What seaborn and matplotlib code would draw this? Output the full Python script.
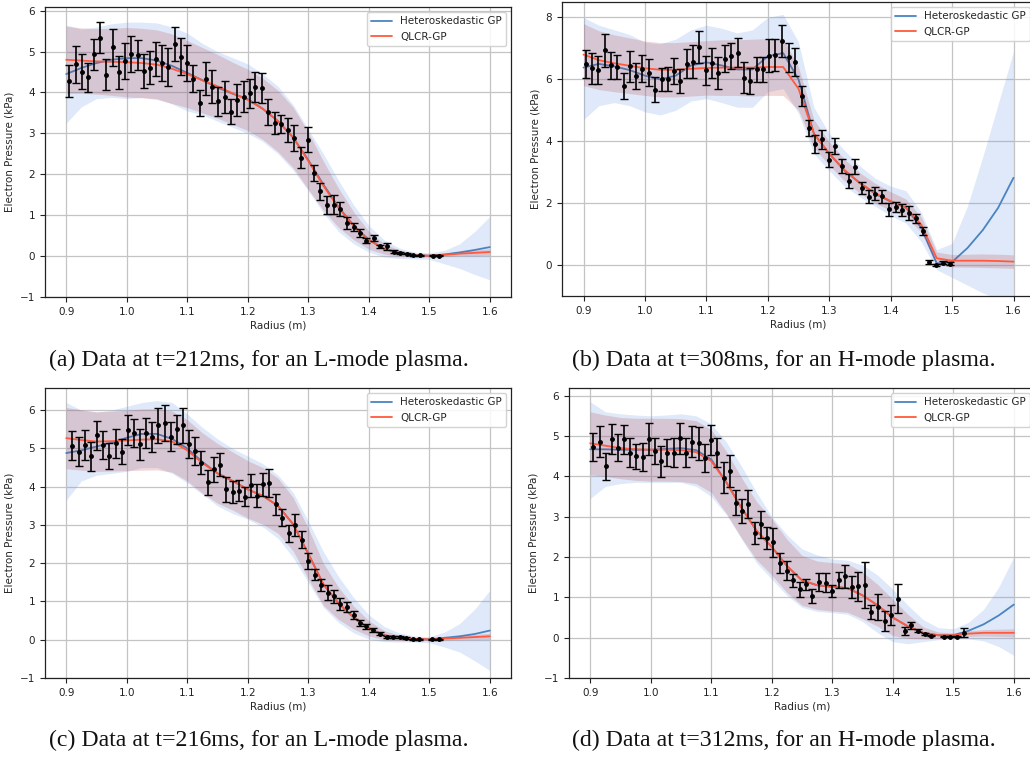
import numpy as np
import seaborn as sns
import matplotlib.pyplot as plt

sns.set_style("ticks")
plt.rcParams['font.family'] = ['DejaVu Sans']

# common radius grid for the GP fits
rg = [0.9, 0.925, 0.95, 0.975, 1.0, 1.025, 1.05, 1.075, 1.1, 1.125, 1.15, 1.175, 1.2, 1.225,
      1.25, 1.275, 1.3, 1.325, 1.35, 1.375, 1.4, 1.425, 1.45, 1.475, 1.5, 1.525, 1.55, 1.575, 1.6]

# ---- (a) t=212ms, L-mode
ra = [0.904, 0.9155, 0.9255, 0.9355, 0.946, 0.9565, 0.9665, 0.977, 0.987, 0.9975,
      1.0077, 1.018, 1.0288, 1.039, 1.0485, 1.0585, 1.069, 1.0795, 1.09, 1.1,
      1.11, 1.1205, 1.131, 1.141, 1.1515, 1.162, 1.1725, 1.1825, 1.193, 1.2035,
      1.2127, 1.2232, 1.2343, 1.2448, 1.2553, 1.2663, 1.2768, 1.2873, 1.2989, 1.3094,
      1.32, 1.3315, 1.342, 1.3525, 1.3635, 1.3751, 1.3856, 1.396, 1.4083, 1.4188,
      1.4293, 1.4409, 1.452, 1.463, 1.4735, 1.4851, 1.506, 1.5166]
pa = [4.27, 4.69, 4.51, 4.37, 4.93, 5.34, 4.43, 5.10, 4.49, 4.77,
      4.93, 4.92, 4.53, 4.61, 4.82, 4.72, 4.63, 5.18, 4.87, 4.73,
      4.34, 3.74, 4.34, 4.14, 3.78, 3.90, 3.53, 3.81, 3.90, 3.98,
      4.13, 4.11, 3.53, 3.26, 3.23, 3.08, 2.88, 2.41, 2.85, 2.03,
      1.58, 1.25, 1.26, 1.15, 0.81, 0.71, 0.56, 0.38, 0.45, 0.24,
      0.24, 0.11, 0.08, 0.06, 0.02, 0.02, 0.01, 0.01]
ea = [0.39, 0.45, 0.42, 0.35, 0.38, 0.38, 0.38, 0.46, 0.40, 0.44,
      0.44, 0.37, 0.41, 0.40, 0.42, 0.43, 0.46, 0.41, 0.45, 0.44,
      0.33, 0.31, 0.41, 0.40, 0.35, 0.39, 0.30, 0.39, 0.38, 0.36,
      0.36, 0.36, 0.32, 0.27, 0.22, 0.30, 0.32, 0.25, 0.31, 0.19,
      0.21, 0.23, 0.23, 0.17, 0.14, 0.10, 0.10, 0.06, 0.07, 0.04,
      0.08, 0.03, 0.02, 0.02, 0.01, 0.01, 0.01, 0.01]
het_a = [4.45, 4.60, 4.72, 4.80, 4.84, 4.84, 4.78, 4.65, 4.48, 4.30, 4.12, 3.97, 3.84, 3.60,
         3.30, 2.90, 2.35, 1.75, 1.20, 0.75, 0.40, 0.18, 0.07, 0.02, 0.01, 0.04, 0.09, 0.15, 0.22]
het_lo_a = [3.25, 3.65, 3.85, 3.88, 3.85, 3.88, 3.85, 3.72, 3.55, 3.45, 3.30, 3.15, 3.00, 2.80,
            2.50, 2.10, 1.60, 1.05, 0.60, 0.30, 0.10, -0.02, -0.06, -0.07, -0.08, -0.19, -0.30, -0.45, -0.58]
het_hi_a = [5.65, 5.55, 5.60, 5.68, 5.72, 5.72, 5.70, 5.60, 5.45, 5.20, 5.00, 4.85, 4.70, 4.45,
            4.15, 3.70, 3.10, 2.50, 1.85, 1.25, 0.75, 0.40, 0.20, 0.10, 0.08, 0.14, 0.30, 0.60, 0.97]
qlcr_a = [4.80, 4.78, 4.76, 4.75, 4.74, 4.72, 4.68, 4.58, 4.45, 4.30, 4.15, 3.98, 3.82, 3.60,
          3.30, 2.90, 2.33, 1.72, 1.18, 0.74, 0.39, 0.18, 0.07, 0.02, 0.01, 0.03, 0.06, 0.08, 0.10]
qlcr_sd_a = [0.82, 0.80, 0.80, 0.82, 0.85, 0.85, 0.85, 0.85, 0.82, 0.80, 0.78, 0.76, 0.75, 0.75,
             0.75, 0.74, 0.70, 0.60, 0.48, 0.34, 0.22, 0.13, 0.08, 0.04, 0.03, 0.04, 0.05, 0.07, 0.08]

# ---- (b) t=308ms, H-mode
rb = [0.9038, 0.914, 0.924, 0.9344, 0.9447, 0.955, 0.9655, 0.9753, 0.9857, 0.996,
      1.0064, 1.0167, 1.027, 1.037, 1.0473, 1.0577, 1.068, 1.0784, 1.0888, 1.0991,
      1.109, 1.1193, 1.1297, 1.14, 1.151, 1.1613, 1.1717, 1.182, 1.1924, 1.2025,
      1.2122, 1.2235, 1.2343, 1.2447, 1.2555, 1.2664, 1.2772, 1.288, 1.2989, 1.3098,
      1.3206, 1.3315, 1.3423, 1.3532, 1.364, 1.3749, 1.3857, 1.3966, 1.408, 1.4188,
      1.4297, 1.4405, 1.4519, 1.4628, 1.4742, 1.485, 1.4959]
pb = [6.51, 6.36, 6.30, 6.94, 6.45, 6.40, 5.79, 6.43, 6.10, 6.35,
      6.22, 5.67, 6.00, 6.00, 6.28, 5.94, 6.51, 6.57, 7.05, 6.30,
      6.53, 6.21, 6.67, 6.75, 6.86, 6.05, 5.95, 6.32, 6.32, 6.77,
      6.78, 7.24, 6.71, 6.57, 5.46, 4.43, 3.91, 4.06, 3.41, 3.85,
      3.20, 2.71, 3.18, 2.48, 2.21, 2.31, 2.23, 1.80, 1.88, 1.78,
      1.69, 1.51, 1.10, 0.11, 0.00, 0.08, 0.05]
eb = [0.45, 0.50, 0.44, 0.54, 0.43, 0.40, 0.41, 0.50, 0.42, 0.44,
      0.45, 0.40, 0.36, 0.39, 0.42, 0.39, 0.46, 0.54, 0.52, 0.47,
      0.47, 0.51, 0.44, 0.43, 0.47, 0.50, 0.41, 0.41, 0.40, 0.54,
      0.51, 0.51, 0.47, 0.45, 0.33, 0.27, 0.29, 0.30, 0.24, 0.27,
      0.24, 0.23, 0.24, 0.19, 0.20, 0.20, 0.21, 0.20, 0.16, 0.19,
      0.22, 0.15, 0.13, 0.06, 0.03, 0.04, 0.04]
het_b = [6.38, 6.50, 6.42, 6.30, 6.12, 6.00, 6.12, 6.45, 6.55, 6.45, 6.32, 6.32, 6.75, 6.85,
         6.00, 4.25, 3.60, 3.05, 2.65, 2.30, 2.05, 1.85, 1.20, 0.05, 0.10, 0.55, 1.13, 1.85, 2.82]
het_lo_b = [4.70, 5.15, 5.25, 5.15, 4.95, 4.85, 5.00, 5.30, 5.38, 5.25, 5.10, 5.10, 5.60, 5.70,
            4.90, 3.60, 3.05, 2.55, 2.20, 1.90, 1.60, 1.35, 0.75, -0.15, -0.40, -0.65, -0.90, -1.10, -1.30]
het_hi_b = [8.00, 7.75, 7.60, 7.45, 7.20, 7.15, 7.30, 7.60, 7.75, 7.65, 7.50, 7.60, 8.00, 8.10,
            7.20, 5.10, 4.25, 3.70, 3.20, 2.80, 2.55, 2.40, 1.70, 0.50, 0.70, 1.90, 3.50, 5.20, 6.90]
qlcr_b = [6.80, 6.62, 6.52, 6.44, 6.36, 6.31, 6.31, 6.34, 6.37, 6.38, 6.38, 6.38, 6.40, 6.40,
          5.70, 4.25, 3.60, 3.07, 2.65, 2.32, 2.07, 1.85, 1.30, 0.22, 0.14, 0.14, 0.14, 0.13, 0.11]
qlcr_sd_b = [1.00, 0.95, 0.92, 0.90, 0.88, 0.88, 0.88, 0.88, 0.88, 0.90, 0.90, 0.92, 0.92, 0.92,
             0.70, 0.45, 0.38, 0.35, 0.33, 0.32, 0.30, 0.28, 0.25, 0.20, 0.20, 0.21, 0.22, 0.22, 0.22]

# ---- (c) t=216ms, L-mode
rc = [0.91, 0.9205, 0.9305, 0.941, 0.951, 0.9615, 0.9715, 0.9815, 0.992, 1.002,
      1.012, 1.022, 1.032, 1.0425, 1.0525, 1.0625, 1.073, 1.083, 1.093, 1.1035,
      1.1135, 1.1235, 1.134, 1.144, 1.1545, 1.1645, 1.1755, 1.1855, 1.1955, 1.2055,
      1.2149, 1.226, 1.2359, 1.2464, 1.2569, 1.268, 1.2785, 1.289, 1.3, 1.3105,
      1.321, 1.332, 1.3425, 1.353, 1.364, 1.375, 1.3856, 1.396, 1.4077, 1.4182,
      1.4293, 1.4403, 1.4514, 1.4619, 1.4724, 1.4834, 1.505, 1.516]
pc = [5.07, 4.92, 5.09, 4.80, 5.34, 5.09, 4.80, 5.14, 4.92, 5.48,
      5.41, 5.11, 5.41, 5.30, 5.60, 5.66, 5.31, 5.50, 5.60, 5.11,
      4.94, 4.63, 4.11, 4.45, 4.58, 3.93, 3.87, 3.90, 3.74, 4.04,
      3.77, 4.06, 4.09, 3.54, 3.19, 2.78, 3.00, 2.62, 2.06, 1.70,
      1.44, 1.23, 1.14, 0.94, 0.86, 0.64, 0.44, 0.35, 0.26, 0.16,
      0.07, 0.07, 0.07, 0.04, 0.01, 0.01, 0.01, 0.01]
ec = [0.38, 0.38, 0.39, 0.38, 0.38, 0.36, 0.35, 0.38, 0.33, 0.39,
      0.36, 0.41, 0.39, 0.39, 0.45, 0.47, 0.37, 0.38, 0.45, 0.36,
      0.37, 0.31, 0.33, 0.32, 0.30, 0.32, 0.29, 0.28, 0.24, 0.30,
      0.31, 0.31, 0.36, 0.27, 0.22, 0.23, 0.29, 0.21, 0.22, 0.15,
      0.16, 0.20, 0.17, 0.16, 0.13, 0.10, 0.08, 0.07, 0.05, 0.04,
      0.03, 0.03, 0.03, 0.02, 0.01, 0.01, 0.01, 0.01]
het_c = [4.88, 4.95, 5.05, 5.15, 5.28, 5.38, 5.38, 5.25, 5.00, 4.65, 4.35, 4.15, 3.93, 3.76,
         3.50, 3.02, 2.25, 1.45, 0.95, 0.58, 0.30, 0.12, 0.05, 0.02, 0.01, 0.05, 0.09, 0.15, 0.24]
het_lo_c = [3.65, 4.15, 4.30, 4.35, 4.40, 4.50, 4.50, 4.35, 4.10, 3.80, 3.50, 3.30, 3.15, 2.95,
            2.65, 2.15, 1.50, 0.85, 0.45, 0.18, 0.02, -0.05, -0.06, -0.06, -0.08, -0.19, -0.32, -0.55, -0.80]
het_hi_c = [6.20, 6.00, 5.95, 6.00, 6.10, 6.20, 6.25, 6.20, 5.90, 5.55, 5.25, 5.00, 4.80, 4.60,
            4.30, 3.85, 3.10, 2.30, 1.65, 1.10, 0.65, 0.35, 0.18, 0.10, 0.08, 0.20, 0.42, 0.80, 1.29]
qlcr_c = [5.27, 5.22, 5.18, 5.19, 5.21, 5.23, 5.24, 5.18, 4.95, 4.62, 4.35, 4.15, 3.93, 3.76,
          3.50, 3.02, 2.25, 1.45, 0.95, 0.58, 0.30, 0.12, 0.05, 0.02, 0.01, 0.03, 0.05, 0.07, 0.09]
qlcr_sd_c = [0.80, 0.79, 0.78, 0.78, 0.79, 0.80, 0.80, 0.80, 0.80, 0.79, 0.78, 0.76, 0.75, 0.74,
             0.72, 0.70, 0.66, 0.55, 0.42, 0.30, 0.20, 0.12, 0.07, 0.04, 0.03, 0.04, 0.05, 0.07, 0.08]

# ---- (d) t=312ms, H-mode
rd = [0.905, 0.9155, 0.9254, 0.936, 0.9464, 0.9564, 0.9663, 0.9762, 0.9867, 0.9972,
      1.0072, 1.0177, 1.0276, 1.038, 1.0486, 1.0586, 1.0685, 1.079, 1.0895, 1.0994,
      1.11, 1.1204, 1.1304, 1.1409, 1.1508, 1.1613, 1.1718, 1.1818, 1.1923, 1.2028,
      1.2138, 1.2248, 1.2358, 1.2468, 1.2567, 1.2671, 1.2781, 1.2892, 1.2996, 1.3106,
      1.3211, 1.3321, 1.3431, 1.3546, 1.3646, 1.3756, 1.3866, 1.3976, 1.4086, 1.4196,
      1.4306, 1.4416, 1.4526, 1.4636, 1.484, 1.495, 1.506, 1.5176]
pd_ = [4.73, 4.86, 4.25, 4.93, 4.71, 4.92, 4.59, 4.50, 4.48, 4.93,
       4.62, 4.37, 4.59, 4.59, 4.94, 4.59, 4.86, 4.82, 4.45, 4.90,
       4.59, 3.97, 4.13, 3.34, 3.14, 3.32, 2.60, 2.81, 2.48, 2.36,
       1.85, 1.66, 1.42, 1.20, 1.32, 1.03, 1.38, 1.36, 1.15, 1.42,
       1.52, 1.26, 1.27, 1.30, 0.64, 0.76, 0.41, 0.57, 0.97, 0.16,
       0.31, 0.17, 0.09, 0.05, 0.02, 0.02, 0.02, 0.12]
ed = [0.35, 0.38, 0.34, 0.37, 0.34, 0.36, 0.35, 0.31, 0.34, 0.40,
      0.32, 0.38, 0.34, 0.36, 0.38, 0.37, 0.38, 0.41, 0.35, 0.37,
      0.35, 0.38, 0.39, 0.31, 0.29, 0.35, 0.27, 0.34, 0.27, 0.36,
      0.25, 0.24, 0.17, 0.18, 0.14, 0.17, 0.22, 0.24, 0.15, 0.20,
      0.29, 0.28, 0.37, 0.57, 0.17, 0.33, 0.25, 0.25, 0.36, 0.10,
      0.09, 0.04, 0.03, 0.02, 0.01, 0.01, 0.01, 0.11]
het_d = [4.67, 4.67, 4.66, 4.66, 4.66, 4.68, 4.70, 4.65, 4.42, 3.85, 3.22, 2.65, 2.25, 1.78,
         1.42, 1.30, 1.26, 1.23, 1.05, 0.80, 0.50, 0.28, 0.12, 0.06, 0.06, 0.17, 0.33, 0.55, 0.82]
het_lo_d = [3.45, 3.75, 3.82, 3.85, 3.85, 3.85, 3.85, 3.75, 3.50, 3.05, 2.45, 1.85, 1.45, 1.05,
            0.75, 0.65, 0.62, 0.58, 0.40, 0.12, -0.10, -0.15, -0.10, -0.05, -0.03, -0.03, -0.08, -0.22, -0.44]
het_hi_d = [5.85, 5.60, 5.55, 5.52, 5.50, 5.52, 5.55, 5.50, 5.30, 4.85, 4.25, 3.60, 3.00, 2.55,
            2.20, 2.05, 1.95, 1.92, 1.80, 1.55, 1.20, 0.80, 0.45, 0.25, 0.22, 0.38, 0.70, 1.25, 2.00]
qlcr_d = [4.82, 4.76, 4.70, 4.67, 4.66, 4.66, 4.65, 4.60, 4.38, 3.85, 3.22, 2.65, 2.25, 1.78,
          1.42, 1.30, 1.26, 1.23, 1.05, 0.80, 0.50, 0.28, 0.12, 0.06, 0.06, 0.10, 0.12, 0.12, 0.12]
qlcr_sd_d = [0.78, 0.76, 0.76, 0.77, 0.78, 0.78, 0.78, 0.78, 0.78, 0.77, 0.75, 0.72, 0.70, 0.66,
             0.62, 0.60, 0.60, 0.60, 0.58, 0.52, 0.45, 0.30, 0.15, 0.08, 0.06, 0.07, 0.08, 0.09, 0.10]

captions = ["(a) Data at t=212ms, for an L-mode plasma.",
            "(b) Data at t=308ms, for an H-mode plasma.",
            "(c) Data at t=216ms, for an L-mode plasma.",
            "(d) Data at t=312ms, for an H-mode plasma."]

xticks = [0.9, 1.0, 1.1, 1.2, 1.3, 1.4, 1.5, 1.6]
xticklabels = ["0.9", "1.0", "1.1", "1.2", "1.3", "1.4", "1.5", "1.6"]

BLUE = "#4a84c2"
RED = "#ff5a3d"


def draw(ax, r, p, e, het, het_lo, het_hi, qlcr, qlcr_sd, ylim):
    g = np.array(rg)
    q = np.array(qlcr)
    s = np.array(qlcr_sd)
    ax.fill_between(g, het_lo, het_hi, color="#6f9be8", alpha=0.22, lw=0, zorder=1)
    sns.lineplot(x=g, y=het, ax=ax, color=BLUE, lw=1.3, label="Heteroskedastic GP", zorder=2)
    ax.fill_between(g, q - s, q + s, color="#b22a2a", alpha=0.18, lw=0, zorder=3)
    sns.lineplot(x=g, y=q, ax=ax, color=RED, lw=1.3, label="QLCR-GP", zorder=4)
    ax.errorbar(r, p, yerr=e, fmt=".", color="black", ecolor="black", markersize=5,
                elinewidth=1.2, capsize=2.8, capthick=1.0, zorder=5)
    ax.set_xlim(0.865, 1.635)
    ax.set_ylim(*ylim)
    ax.set_xticks(xticks)
    ax.set_xticklabels(xticklabels)
    ax.grid(True, color="#c4c4c4", lw=0.9)
    ax.set_axisbelow(True)
    ax.tick_params(labelsize=7.5, length=3.5, width=0.8, colors="#222222")
    ax.set_xlabel("Radius (m)", fontsize=7.5, labelpad=3)
    ax.set_ylabel("Electron Pressure (kPa)", fontsize=7.5, labelpad=4)
    for sp in ax.spines.values():
        sp.set_color("#222222")
        sp.set_linewidth(0.9)
    leg = ax.legend(loc="upper right", fontsize=7.5, frameon=True, fancybox=True,
                    borderaxespad=0.5, handlelength=2.0)
    leg.get_frame().set_edgecolor("#cccccc")
    leg.get_frame().set_alpha(0.85)


fig = plt.figure(figsize=(10.30, 7.57), dpi=100)
W, H = 1030.0, 757.0

ax_a = fig.add_axes([45 / W, 1 - 297 / H, 466 / W, 290 / H])
ax_b = fig.add_axes([562 / W, 1 - 296 / H, 473 / W, 294 / H])
ax_c = fig.add_axes([45 / W, 1 - 678 / H, 466 / W, 290 / H])
ax_d = fig.add_axes([569 / W, 1 - 678 / H, 466 / W, 290 / H])

draw(ax_a, ra, pa, ea, het_a, het_lo_a, het_hi_a, qlcr_a, qlcr_sd_a, (-1, 6.09))
draw(ax_b, rb, pb, eb, het_b, het_lo_b, het_hi_b, qlcr_b, qlcr_sd_b, (-1, 8.5))
draw(ax_c, rc, pc, ec, het_c, het_lo_c, het_hi_c, qlcr_c, qlcr_sd_c, (-1, 6.58))
draw(ax_d, rd, pd_, ed, het_d, het_lo_d, het_hi_d, qlcr_d, qlcr_sd_d, (-1, 6.19))
ax_b.set_yticks([0, 2, 4, 6, 8])

cap_pos = [(259, 360), (784, 360), (259, 740), (784, 740)]
for (cx, cy), txt in zip(cap_pos, captions):
    fig.text(cx / W, 1 - cy / H, txt, ha="center", va="center", fontsize=17.2,
             family=["Liberation Serif", "DejaVu Serif"], color="#111111")

fig.savefig("out.png", dpi=100)
